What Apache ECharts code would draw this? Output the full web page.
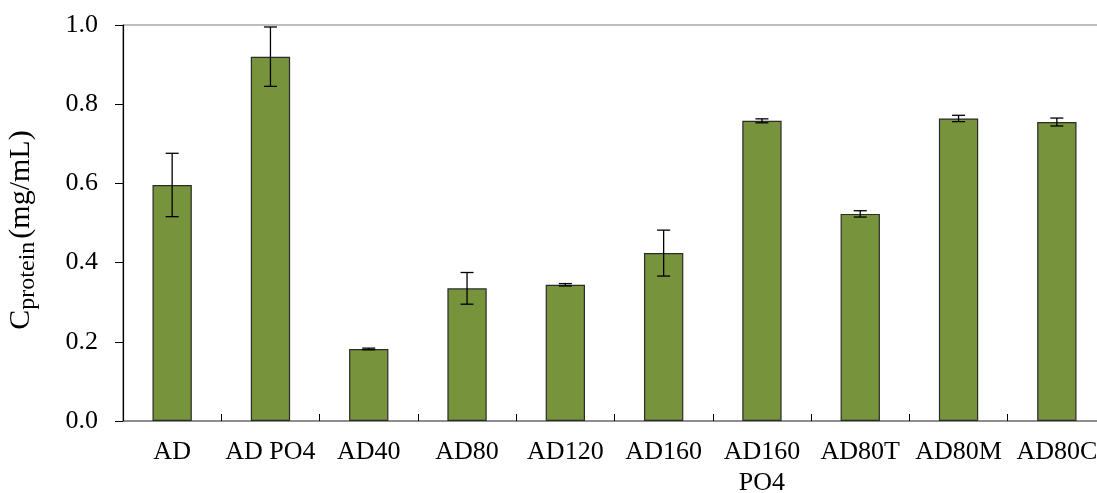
<!DOCTYPE html>
<html>
<head>
<meta charset="utf-8">
<script src="https://cdn.jsdelivr.net/npm/echarts@6/dist/echarts.min.js"></script>
<style>
  html, body { margin: 0; padding: 0; background: #fff; }
  #chart { width: 1097px; height: 493px; }
</style>
</head>
<body>
<div id="chart"></div>
<script>
// Sample groups along the x axis
const categories = ['AD', 'AD PO4', 'AD40', 'AD80', 'AD120', 'AD160', 'AD160\nPO4', 'AD80T', 'AD80M', 'AD80C'];
// Mean protein concentration (mg/mL)
const meanValues = [0.596, 0.920, 0.182, 0.335, 0.344, 0.424, 0.758, 0.523, 0.764, 0.755];
// Standard deviation for each group (± error bars)
const errValues = [0.080, 0.075, 0.002, 0.040, 0.003, 0.058, 0.005, 0.008, 0.008, 0.010];
// Y axis tick range
const yTicks = { min: 0, max: 1.0, step: 0.2 };

const FONT = '"Liberation Serif", "Times New Roman", serif';

const chart = echarts.init(document.getElementById('chart'), null, { renderer: 'canvas' });

const errData = meanValues.map((v, i) => [i, v - errValues[i], v + errValues[i]]);

chart.setOption({
  animation: false,
  backgroundColor: '#ffffff',
  grid: {
    left: 123, top: 25, width: 983, bottom: 72,
    containLabel: false, outerBoundsMode: 'none',
    show: true, borderColor: '#7f7f7f', borderWidth: 1.2, backgroundColor: 'transparent'
  },
  xAxis: {
    type: 'category',
    data: categories,
    axisLine: { lineStyle: { color: '#7f7f7f', width: 1.5 } },
    axisTick: { show: true, inside: true, length: 7, lineStyle: { color: '#000', width: 1 } },
    axisLabel: {
      interval: 0, margin: 16, color: '#000', fontFamily: FONT, fontSize: 26, lineHeight: 31
    }
  },
  yAxis: {
    type: 'value',
    min: yTicks.min, max: yTicks.max, interval: yTicks.step,
    splitLine: { show: false },
    axisLine: { show: true, lineStyle: { color: '#000', width: 1.2 } },
    axisTick: { show: true, length: 8, lineStyle: { color: '#000', width: 1 } },
    axisLabel: {
      margin: 25, color: '#000', fontFamily: FONT, fontSize: 26,
      formatter: v => v.toFixed(1)
    },
    name: '{c|C}{s|protein}{c|(mg/mL)}',
    nameLocation: 'middle',
    nameRotate: 90,
    nameGap: 84,
    nameTextStyle: {
      padding: [0, 14, 0, 0],
      rich: {
        c: { fontFamily: FONT, fontSize: 30, color: '#000', lineHeight: 36 },
        s: { fontFamily: FONT, fontSize: 24, color: '#000', lineHeight: 36, padding: [14, 3, 0, 0] }
      }
    }
  },
  series: [
    {
      type: 'bar',
      data: meanValues,
      barWidth: '40%',
      itemStyle: { color: '#77933c', borderColor: '#2b2b2b', borderWidth: 1.2 }
    },
    {
      type: 'custom',
      data: errData,
      z: 10,
      renderItem: function (params, api) {
        const x = api.value(0);
        const lo = api.coord([x, api.value(1)]);
        const hi = api.coord([x, api.value(2)]);
        const half = 6.5;
        const style = { stroke: '#000', lineWidth: 1.3 };
        return {
          type: 'group',
          children: [
            { type: 'line', shape: { x1: hi[0], y1: hi[1], x2: lo[0], y2: lo[1] }, style },
            { type: 'line', shape: { x1: hi[0] - half, y1: hi[1], x2: hi[0] + half, y2: hi[1] }, style },
            { type: 'line', shape: { x1: lo[0] - half, y1: lo[1], x2: lo[0] + half, y2: lo[1] }, style }
          ]
        };
      }
    }
  ]
});
</script>
</body>
</html>
